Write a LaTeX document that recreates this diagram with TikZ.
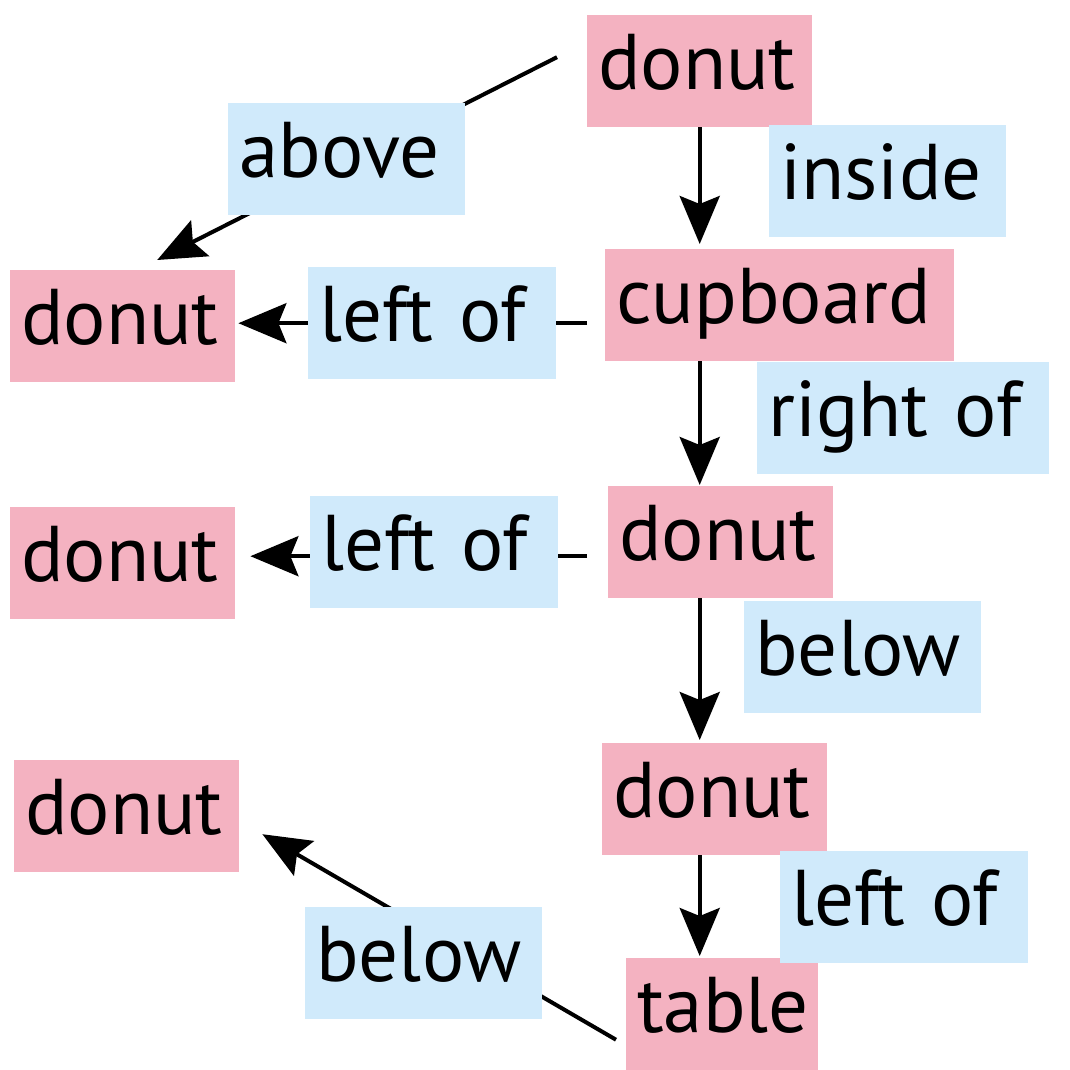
\documentclass[tikz,border=0pt]{standalone}
\usepackage{fontspec}
\setmainfont{PT Sans}
\usetikzlibrary{arrows.meta}
\definecolor{pinkfill}{RGB}{244,178,193}
\definecolor{bluefill}{RGB}{208,234,251}
\tikzset{
  boxbase/.style={anchor=north west, inner sep=0pt, align=left,
    text height=74pt, text depth=38pt,
    font=\fontsize{79pt}{90pt}\selectfont,
    execute at begin node={\hspace*{11pt}}},
  pinkbox/.style={boxbase, fill=pinkfill},
  bluebox/.style={boxbase, fill=bluefill},
  arr/.style={line width=4pt, -{Stealth[length=48pt,width=40pt,inset=8pt]}}
}
\begin{document}
\begin{tikzpicture}[x=1pt,y=-1pt]
\useasboundingbox (0,0) rectangle (1070,1069);
% object nodes
\node[pinkbox, text width=225pt] (D0) at (587,15) {donut};
\node[pinkbox, text width=349pt] (cup) at (605,249) {cupboard};
\node[pinkbox, text width=225pt] (D2) at (608,486) {donut};
\node[pinkbox, text width=225pt] (D3) at (602,743) {donut};
\node[pinkbox, text width=192pt] (tab) at (626,958) {table};
\node[pinkbox, text width=225pt] (L1) at (10,270) {donut};
\node[pinkbox, text width=225pt] (L2) at (10,507) {donut};
\node[pinkbox, text width=225pt] (L3) at (14,760) {donut};
% connectors
\draw[arr] (D0.south) -- ([yshift=5pt]D0.south |- cup.north);
\draw[arr] (cup.south -| D0.south) -- ([yshift=1pt]D2.north -| D0.south);
\draw[arr] (D2.south -| D0.south) -- ([yshift=3pt]D3.north -| D0.south);
\draw[arr] (D3.south -| D0.south) -- ([yshift=2pt]tab.north -| D0.south);
\draw[arr] ([shift={(-18pt,-18pt)}]cup.west) -- ([shift={(3pt,3pt)}]L1.east);
\draw[arr] ([shift={(-21pt,-14pt)}]D2.west) -- ([shift={(15pt,7pt)}]L2.east);
\draw[arr] ([shift={(-30pt,14pt)}]D0.west) -- ([shift={(34.5pt,10pt)}]L1.north);
\draw[arr] ([shift={(-10pt,-25.5pt)}]tab.west) -- ([shift={(23pt,-18pt)}]L3.east);
% relation labels
\node[bluebox, text width=237pt] (inside) at (769,125) {inside};
\node[bluebox, text width=292pt] (rightof) at (757,362) {right of};
\node[bluebox, text width=237pt] (belowR) at (744,601) {below};
\node[bluebox, text width=248pt] (leftofR) at (780,851) {left of};
\node[bluebox, text width=237pt] (above) at (228,103) {above};
\node[bluebox, text width=248pt] (leftofA) at (308,267) {left of};
\node[bluebox, text width=248pt] (leftofB) at (310,496) {left of};
\node[bluebox, text width=237pt] (belowL) at (305,907) {below};
\end{tikzpicture}
\end{document}
